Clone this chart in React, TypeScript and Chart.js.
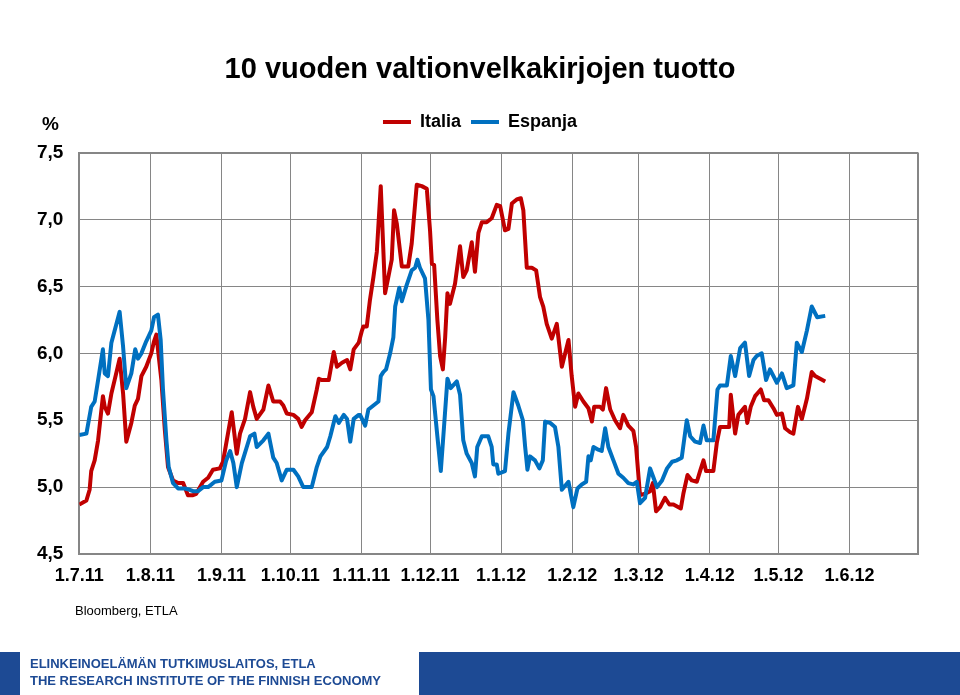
import React, { useEffect, useRef } from "react";
import { Chart, registerables } from "chart.js";

Chart.register(...registerables);

// x positions are days counted from 1.7.2011
const monthStarts = [0, 31, 62, 92, 123, 153, 184, 215, 244, 275, 305, 336, 366];
const monthLabels = ["1.7.11", "1.8.11", "1.9.11", "1.10.11", "1.11.11", "1.12.11", "1.1.12", "1.2.12", "1.3.12", "1.4.12", "1.5.12", "1.6.12", ""];
const yTickValues = [4.5, 5.0, 5.5, 6.0, 6.5, 7.0, 7.5];

const italyDays = [
  0, 3.1, 4.5, 5.2, 6.7, 8.2, 10.3, 11.1, 12.5, 14.0, 15.4, 17.6, 19.1, 20.5, 22.7, 24.2, 25.6, 27.1, 29.2, 31.4,
  32.6, 33.6, 35.8, 37.3, 38.7, 40.9, 43.1, 45.3, 47.4, 49.6, 51.0, 54.0, 56.2, 58.3, 61.3, 62.7, 66.5, 68.7, 70.1, 72.3,
  74.5, 75.9, 77.4, 80.3, 82.5, 84.6, 87.6, 89.0, 90.5, 93.4, 95.5, 97.0, 98.5, 101.4, 103.6, 104.5, 105.9, 108.8, 111.0, 112.4,
  114.6, 116.8, 118.2, 119.7, 121.9, 123.3, 123.9, 125.4, 126.8, 128.3, 129.8, 131.5, 133.4, 134.8, 136.3, 137.3, 138.5, 140.7, 143.5, 145.0,
  147.2, 149.4, 151.6, 153.0, 153.8, 154.8, 156.2, 157.4, 158.6, 159.6, 160.6, 161.7, 163.9, 166.1, 167.5, 169.0, 171.2, 172.6, 174.1, 175.6,
  177.7, 179.9, 182.1, 183.6, 185.7, 187.2, 188.7, 190.8, 192.6, 193.7, 195.2, 197.4, 199.3, 201.0, 202.4, 203.9, 206.1, 208.3, 210.5, 213.4,
  214.8, 216.3, 217.7, 219.9, 222.1, 223.6, 224.6, 227.2, 228.4, 229.8, 231.6, 233.7, 235.9, 237.3, 239.5, 241.7, 242.9, 244.6, 246.8, 249.0,
  250.2, 251.6, 253.4, 255.5, 257.4, 259.2, 262.4, 263.5, 265.3, 267.2, 269.4, 270.8, 272.3, 273.4, 276.6, 278.1, 279.5, 283.5, 284.2, 286.1,
  287.5, 290.4, 291.4, 292.9, 294.8, 297.3, 298.7, 300.6, 302.8, 304.3, 306.5, 307.9, 310.1, 311.5, 313.5, 315.2, 317.4, 319.5, 321.0, 323.2,
  325.4,
];
const italyYield = [
  4.87, 4.90, 4.98, 5.12, 5.20, 5.35, 5.68, 5.60, 5.55, 5.70, 5.80, 5.96, 5.70, 5.34, 5.48, 5.61, 5.66, 5.83, 5.90, 6.00,
  6.09, 6.14, 5.80, 5.43, 5.15, 5.05, 5.03, 5.03, 4.94, 4.94, 4.95, 5.04, 5.07, 5.13, 5.14, 5.19, 5.56, 5.25, 5.40, 5.51,
  5.71, 5.60, 5.51, 5.58, 5.76, 5.64, 5.64, 5.61, 5.55, 5.54, 5.51, 5.45, 5.50, 5.56, 5.73, 5.81, 5.80, 5.80, 6.01, 5.90,
  5.93, 5.95, 5.88, 6.03, 6.08, 6.17, 6.20, 6.20, 6.40, 6.57, 6.76, 7.25, 6.45, 6.57, 6.70, 7.07, 6.97, 6.65, 6.65, 6.82,
  7.26, 7.25, 7.23, 6.92, 6.67, 6.66, 6.25, 5.98, 5.88, 6.12, 6.45, 6.37, 6.52, 6.80, 6.57, 6.62, 6.83, 6.61, 6.90, 6.98,
  6.98, 7.01, 7.11, 7.10, 6.92, 6.93, 7.12, 7.15, 7.16, 7.07, 6.64, 6.64, 6.62, 6.42, 6.35, 6.22, 6.11, 6.22, 5.90, 6.10,
  5.83, 5.60, 5.70, 5.64, 5.59, 5.49, 5.60, 5.60, 5.58, 5.74, 5.58, 5.50, 5.44, 5.54, 5.46, 5.42, 5.30, 4.94, 4.95, 4.97,
  5.03, 4.82, 4.85, 4.92, 4.87, 4.87, 4.84, 4.95, 5.09, 5.05, 5.04, 5.12, 5.20, 5.12, 5.12, 5.33, 5.45, 5.45, 5.69, 5.40,
  5.54, 5.60, 5.48, 5.60, 5.68, 5.73, 5.65, 5.65, 5.59, 5.54, 5.55, 5.44, 5.41, 5.40, 5.60, 5.51, 5.66, 5.86, 5.83, 5.81,
  5.79,
];

const spainDays = [
  0, 3.1, 5.2, 6.7, 8.2, 10.3, 11.1, 12.5, 14.0, 17.6, 19.1, 20.5, 22.7, 24.4, 25.6, 27.1, 29.2, 31.4, 32.6, 34.3,
  35.5, 36.5, 38.0, 39.0, 40.9, 43.1, 46.0, 48.2, 49.6, 51.8, 54.0, 56.2, 59.1, 62.0, 64.1, 65.8, 67.2, 68.7, 70.9, 74.5,
  76.4, 77.4, 80.3, 82.5, 84.6, 86.1, 88.3, 90.5, 93.4, 95.5, 97.7, 101.4, 103.6, 105.2, 108.1, 109.5, 111.7, 113.2, 115.4, 116.8,
  118.2, 119.7, 121.9, 122.5, 124.7, 126.1, 128.3, 130.5, 131.5, 132.6, 133.8, 135.6, 137.0, 137.8, 139.6, 140.7, 142.8, 145.0, 146.5, 147.5,
  148.6, 150.8, 152.3, 153.4, 154.5, 156.2, 157.7, 159.1, 160.6, 162.0, 164.7, 166.1, 167.5, 169.0, 171.2, 172.6, 173.6, 175.6, 178.4, 179.9,
  180.6, 182.1, 182.8, 185.7, 187.2, 189.4, 191.5, 193.5, 194.5, 195.5, 196.6, 198.8, 200.7, 202.2, 203.2, 205.4, 207.5, 209.0, 210.5, 213.4,
  215.5, 217.3, 219.2, 221.1, 222.1, 223.1, 224.3, 226.4, 227.9, 229.4, 230.8, 233.0, 235.2, 237.3, 239.5, 241.7, 243.2, 244.6, 246.8, 249.0,
  250.5, 252.0, 254.2, 256.4, 258.6, 260.7, 262.8, 265.0, 266.5, 268.6, 270.8, 272.3, 273.7, 276.6, 278.4, 279.5, 282.5, 284.2, 286.1, 288.3,
  290.4, 292.2, 294.1, 295.5, 297.7, 299.6, 301.3, 304.3, 306.5, 308.6, 311.5, 313.0, 315.2, 317.4, 319.5, 321.9, 325.4,
];
const spainYield = [
  5.39, 5.40, 5.60, 5.64, 5.80, 6.03, 5.85, 5.83, 6.08, 6.31, 6.05, 5.74, 5.85, 6.03, 5.96, 6.00, 6.09, 6.17, 6.27, 6.29,
  6.10, 5.73, 5.35, 5.15, 5.03, 4.99, 4.99, 4.98, 4.97, 4.97, 5.00, 5.00, 5.04, 5.05, 5.20, 5.27, 5.18, 5.00, 5.18, 5.38,
  5.40, 5.30, 5.35, 5.40, 5.22, 5.18, 5.05, 5.13, 5.13, 5.08, 5.00, 5.00, 5.15, 5.23, 5.30, 5.38, 5.53, 5.48, 5.54, 5.51,
  5.34, 5.51, 5.54, 5.54, 5.46, 5.58, 5.61, 5.64, 5.83, 5.86, 5.88, 6.00, 6.12, 6.35, 6.49, 6.39, 6.51, 6.62, 6.64, 6.70,
  6.64, 6.56, 6.25, 5.73, 5.68, 5.38, 5.12, 5.45, 5.81, 5.74, 5.79, 5.69, 5.35, 5.25, 5.18, 5.08, 5.30, 5.38, 5.38, 5.30,
  5.17, 5.17, 5.10, 5.12, 5.40, 5.71, 5.61, 5.50, 5.30, 5.13, 5.23, 5.20, 5.14, 5.20, 5.49, 5.48, 5.45, 5.30, 4.98, 5.04,
  4.85, 4.99, 5.02, 5.04, 5.23, 5.20, 5.30, 5.28, 5.27, 5.44, 5.30, 5.20, 5.10, 5.07, 5.03, 5.02, 5.04, 4.88, 4.92, 5.14,
  5.07, 5.00, 5.05, 5.14, 5.19, 5.20, 5.22, 5.50, 5.38, 5.34, 5.33, 5.46, 5.35, 5.35, 5.73, 5.76, 5.76, 5.98, 5.83, 6.04,
  6.08, 5.83, 5.95, 5.98, 6.00, 5.80, 5.88, 5.78, 5.85, 5.74, 5.76, 6.08, 6.01, 6.17, 6.35, 6.27, 6.28,
];

const RED = "#C00000";
const BLUE = "#0070C0";
const GRID = "#868686";
const FONT = "'Liberation Sans', Arial, Helvetica, sans-serif";
const BANNER = "#1d4a94";

// adds an empty gap below the legend so that the plot starts lower
const legendGapPlugin = {
  id: "legendGap",
  beforeLayout(chart: any) {
    const lg = chart.legend;
    if (lg && !lg.__gapPatched) {
      const orig = lg.fit.bind(lg);
      lg.fit = function () {
        orig();
        this.height += 11.7;
      };
      lg.__gapPatched = true;
    }
  },
};

export default function App() {
  const canvasRef = useRef<HTMLCanvasElement>(null);

  useEffect(() => {
    const canvas = canvasRef.current;
    if (!canvas) return;
    const chart = new Chart(canvas, {
      type: "line",
      data: {
        datasets: [
          {
            label: "Italia",
            data: italyDays.map((d, i) => ({ x: d, y: italyYield[i] })),
            borderColor: RED,
            backgroundColor: RED,
            borderWidth: 4,
            pointRadius: 0,
            tension: 0,
            borderJoinStyle: "round",
            order: 2,
          },
          {
            label: "Espanja",
            data: spainDays.map((d, i) => ({ x: d, y: spainYield[i] })),
            borderColor: BLUE,
            backgroundColor: BLUE,
            borderWidth: 4,
            pointRadius: 0,
            tension: 0,
            borderJoinStyle: "round",
            order: 1,
          },
        ],
      },
      plugins: [legendGapPlugin],
      options: {
        responsive: false,
        animation: false,
        layout: { padding: { left: 0, right: 0, top: 0, bottom: 101 } },
        plugins: {
          title: {
            display: true,
            text: "10 vuoden valtionvelkakirjojen tuotto",
            color: "#000",
            font: { family: FONT, size: 29, weight: "bold" },
            padding: { top: 52.6, bottom: 15.6 },
          },
          legend: {
            display: true,
            position: "top",
            labels: {
              color: "#000",
              font: { family: FONT, size: 18, weight: "bold" },
              boxWidth: 28,
              boxHeight: 4,
              padding: 10,
              sort: (a: any, b: any) => a.datasetIndex - b.datasetIndex,
              generateLabels: (ch: any) =>
                (Chart.defaults.plugins.legend.labels.generateLabels as any)(ch).map((l: any) => ({ ...l, lineWidth: 0 })),
            },
          },
          tooltip: { enabled: false },
        },
        scales: {
          x: {
            type: "linear",
            min: 0,
            max: 366,
            afterBuildTicks: (s: any) => {
              s.ticks = monthStarts.map((v) => ({ value: v }));
            },
            afterFit: (s: any) => {
              s.height = 40;
              s.paddingRight = 41.7;
            },
            ticks: {
              autoSkip: false,
              maxRotation: 0,
              padding: 11,
              color: "#000",
              font: { family: FONT, size: 18, weight: "bold" },
              callback: (_v: any, i: number) => monthLabels[i],
            },
            grid: { color: GRID, lineWidth: (c: any) => (c.tick && c.tick.value === 366 ? 2 : 1), drawTicks: false },
            border: { color: GRID, width: 2 },
          },
          y: {
            min: 4.5,
            max: 7.5,
            afterBuildTicks: (s: any) => {
              s.ticks = yTickValues.map((v) => ({ value: v }));
            },
            afterFit: (s: any) => {
              s.width = 79.3;
              s.paddingTop = 152.7;
            },
            ticks: {
              padding: 16,
              color: "#000",
              font: { family: FONT, size: 19, weight: "bold" },
              callback: (v: any) => Number(v).toFixed(1).replace(".", ","),
            },
            grid: { color: GRID, lineWidth: (c: any) => (c.tick && c.tick.value === 7.5 ? 2 : 1), drawTicks: false },
            border: { color: GRID, width: 2 },
          },
        },
      },
    } as any);
    return () => chart.destroy();
  }, []);

  return (
    <div
      style={{
        position: "absolute",
        left: 0,
        top: 0,
        width: 960,
        height: 695,
        overflow: "hidden",
        background: "#fff",
        fontFamily: FONT,
      }}
    >
      <canvas ref={canvasRef} width={960} height={695} style={{ position: "absolute", left: 0, top: 0 }} />
      <div style={{ position: "absolute", left: 42, top: 114, fontSize: 19, lineHeight: "19px", fontWeight: "bold", color: "#000" }}>%</div>
      <div style={{ position: "absolute", left: 75, top: 604, fontSize: 13, lineHeight: "13px", color: "#000" }}>Bloomberg, ETLA</div>
      <div style={{ position: "absolute", left: 0, top: 652, width: 20, height: 43, background: BANNER }} />
      <div style={{ position: "absolute", left: 419, top: 652, width: 541, height: 43, background: BANNER }} />
      <div
        style={{
          position: "absolute",
          left: 30,
          top: 655,
          fontSize: 13,
          lineHeight: "17px",
          fontWeight: "bold",
          color: BANNER,
          whiteSpace: "nowrap",
        }}
      >
        <div>ELINKEINOELÄMÄN TUTKIMUSLAITOS, ETLA</div>
        <div>THE RESEARCH INSTITUTE OF THE FINNISH ECONOMY</div>
      </div>
    </div>
  );
}
